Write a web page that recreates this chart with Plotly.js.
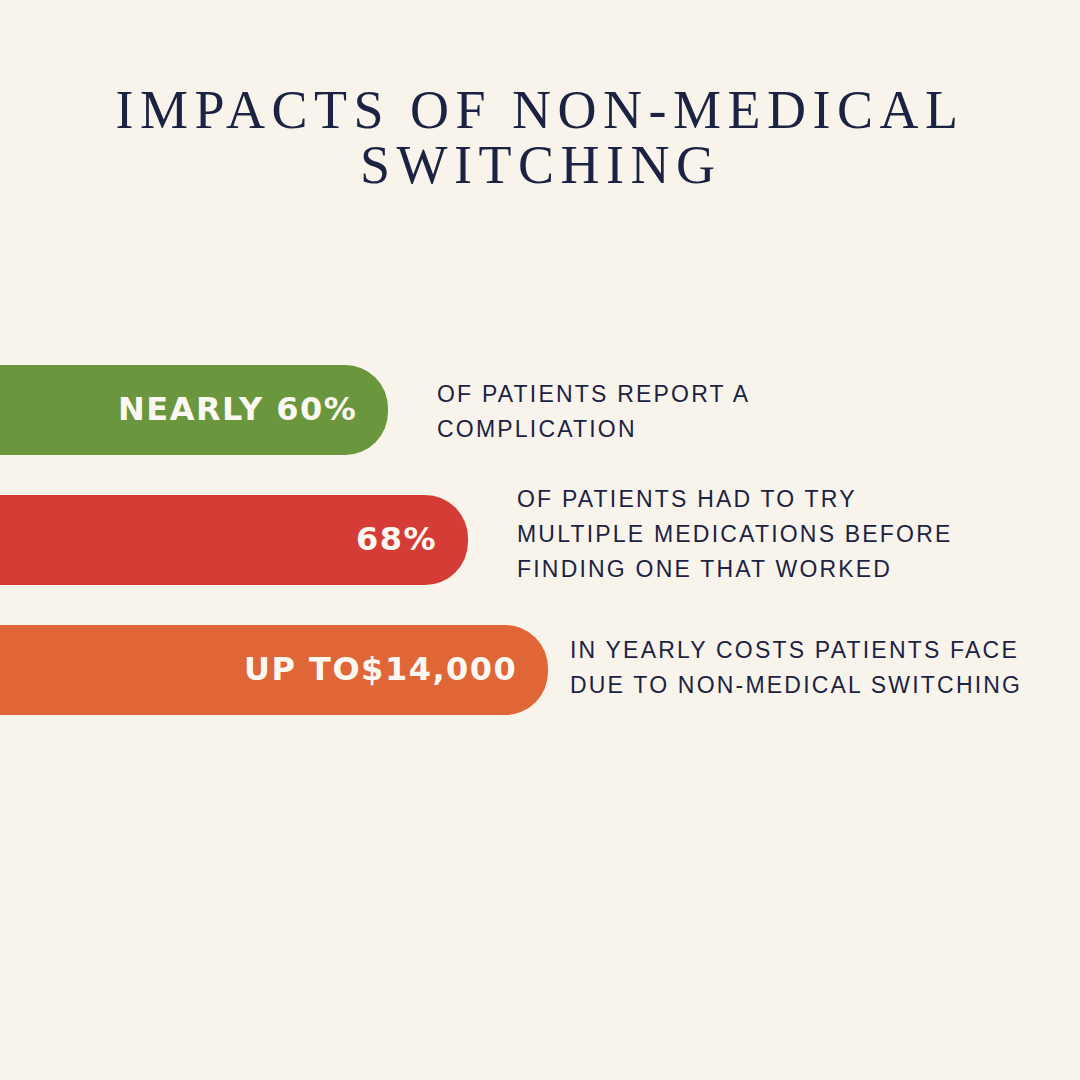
<!DOCTYPE html>
<html>
<head>
<meta charset="utf-8">
<script src="https://cdn.plot.ly/plotly-3.0.1.min.js"></script>
<style>
  html, body { margin: 0; padding: 0; background: #f8f4ec; }
  #chart { width: 1080px; height: 1080px; }
</style>
</head>
<body>
<div id="chart"></div>
<script>
// ---- data ----
const titleLines = ["IMPACTS OF NON-MEDICAL", "SWITCHING"];
const categories = ["Complications", "Multiple medications", "Yearly costs"];
const barLength = [388, 468, 548];          // bar lengths (axis units)
const barLabels = ["NEARLY 60%", "68%", "UP TO$14,000"];
const descriptions = [
  ["OF PATIENTS REPORT A", "COMPLICATION"],
  ["OF PATIENTS HAD TO TRY", "MULTIPLE MEDICATIONS BEFORE", "FINDING ONE THAT WORKED"],
  ["IN YEARLY COSTS PATIENTS FACE", "DUE TO NON-MEDICAL SWITCHING"]
];
const barColors = ["#6a963e", "#d63c36", "#e06637"];

// ---- styling constants ----
const BG = "#f8f4ec";
const NAVY = "#1c2342";
const descGap = [49, 49, 22];
const descYShift = [-1.5, 6.5, 3];
const linePitch = 35;
const OFFSCREEN = 60;   // bars start left of the visible area so only the right end shows rounding

const spaced = (t, px) => '<span style="letter-spacing:' + px + 'px">' + t + '</span>';

const trace = {
  type: "bar",
  orientation: "h",
  y: categories,
  x: barLength.map(v => v + OFFSCREEN),
  base: -OFFSCREEN,
  marker: { color: barColors, cornerradius: 43, line: { width: 0 } },
  hoverinfo: "skip",
  showlegend: false
};

const annotations = [];
// second title line
annotations.push({
  xref: "paper", yref: "paper", x: 0.5, y: (735 - 164.5) / 390,
  xanchor: "center", yanchor: "middle", showarrow: false,
  text: spaced(titleLines[1], 6.5),
  font: { family: "Liberation Serif, serif", size: 54, color: NAVY }
});
// bar labels
barLabels.forEach((lab, i) => {
  annotations.push({
    xref: "x", yref: "y", x: barLength[i], y: categories[i],
    xanchor: "right", yanchor: "middle", align: "right", xshift: -29, yshift: 1,
    showarrow: false,
    text: spaced(lab, 1.5),
    font: { family: "DejaVu Sans, sans-serif", size: 32, color: "#fbf8f1", weight: 700 }
  });
});
// descriptions
descriptions.forEach((lines, i) => {
  const n = lines.length;
  lines.forEach((ln, j) => {
    annotations.push({
      xref: "x", yref: "y", x: barLength[i], y: categories[i],
      xanchor: "left", yanchor: "middle", align: "left",
      xshift: descGap[i] - 2,
      yshift: -((j - (n - 1) / 2) * linePitch) + descYShift[i],
      showarrow: false,
      text: spaced(ln, 2.2),
      font: { family: "Liberation Sans, Arial, sans-serif", size: 23, color: NAVY }
    });
  });
});

const layout = {
  width: 1080, height: 1080,
  paper_bgcolor: BG, plot_bgcolor: BG,
  margin: { l: 0, r: 0, t: 345, b: 345, pad: 0 },
  title: {
    text: spaced(titleLines[0], 6.5),
    font: { family: "Liberation Serif, serif", size: 54, color: NAVY },
    x: 0.5, xanchor: "center", xref: "paper",
    y: 1 - 109 / 1080, yanchor: "middle", yref: "container"
  },
  xaxis: { range: [0, 1080], visible: false, fixedrange: true },
  yaxis: { type: "category", categoryorder: "array", categoryarray: categories,
           range: [2.5, -0.5], visible: false, fixedrange: true },
  bargap: 1 - 90 / 130,
  showlegend: false,
  hovermode: false,
  annotations: annotations
};

Plotly.newPlot("chart", [trace], layout, { displayModeBar: false, staticPlot: true });
</script>
</body>
</html>
